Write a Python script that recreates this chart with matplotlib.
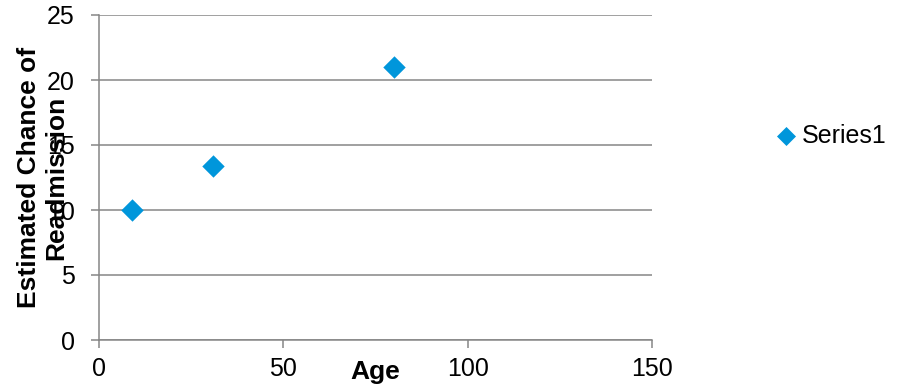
import matplotlib
matplotlib.use("Agg")
import matplotlib.pyplot as plt

plt.rcParams["font.family"] = ["Liberation Sans", "DejaVu Sans"]

# Datos: edad vs. probabilidad estimada de readmisión
edad = [9, 31, 80]
prob_readmision = [10, 13.4, 21]
serie = "Series1"

x_ticks = [0, 50, 100, 150]
y_ticks = [0, 5, 10, 15, 20, 25]

gris = "#868686"
azul = "#0096DB"

fig = plt.figure(figsize=(9.01, 3.9), dpi=100)
ax = fig.add_axes([99 / 901, 1 - 340 / 390, 553 / 901, 325 / 390])

ax.scatter(edad, prob_readmision, marker="D", s=130, color=azul,
           linewidths=0, label=serie, zorder=3)

ax.set_xlim(0, 150)
ax.set_ylim(0, 25)
ax.set_xticks(x_ticks)
ax.set_yticks(y_ticks)

# Cuadrícula horizontal y ejes grises
ax.yaxis.grid(True, color=gris, linewidth=1.1)
ax.set_axisbelow(True)
for lado in ["top", "right"]:
    ax.spines[lado].set_visible(False)
for lado in ["left", "bottom"]:
    ax.spines[lado].set_color(gris)
    ax.spines[lado].set_linewidth(1.1)

ax.tick_params(axis="x", direction="out", length=5.5, width=1.1, color=gris,
               labelsize=18, pad=7)
ax.tick_params(axis="y", direction="out", length=5.5, width=1.1, color=gris,
               labelsize=18, pad=12)

ax.set_xlabel("Age", fontsize=19, fontweight="bold")
ax.xaxis.set_label_coords(0.5, -0.097)
ax.xaxis.label.set_va("center")

ax.set_ylabel("Estimated Chance of\nReadmission", fontsize=19,
              fontweight="bold", multialignment="center")
ax.yaxis.set_label_coords(-0.102, 0.5)
ax.yaxis.label.set_va("center")
ax.yaxis.label.set_ha("center")

fig.legend(loc="center left", bbox_to_anchor=(777 / 901, 1 - 136 / 390),
           frameon=False, fontsize=18, handlelength=0.7, handletextpad=0.3,
           borderpad=0, borderaxespad=0, markerscale=0.85)

fig.savefig("out.png", dpi=100)
